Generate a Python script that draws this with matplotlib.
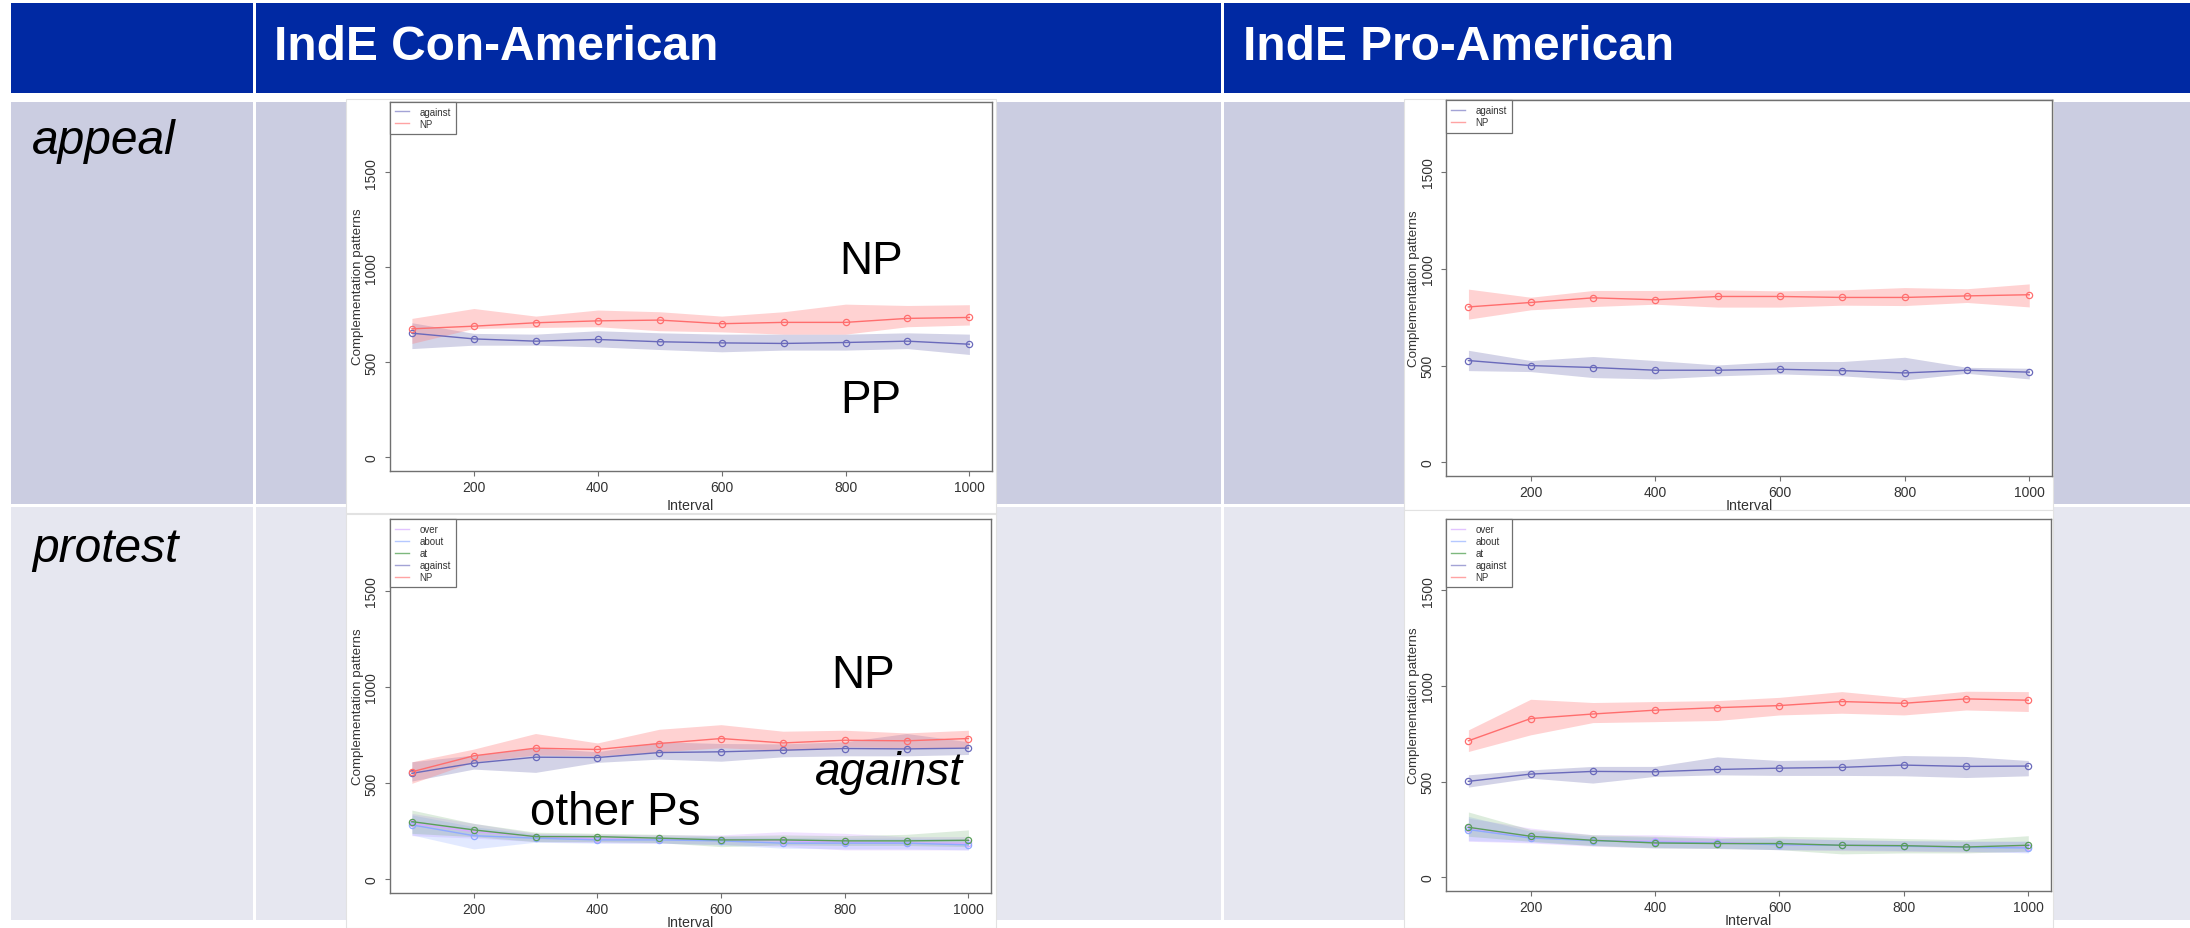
import matplotlib.pyplot as plt
from matplotlib.patches import Rectangle
from matplotlib.lines import Line2D

plt.rcParams['font.family'] = ['Liberation Sans', 'DejaVu Sans']

W, H = 2190, 929

interval = [100, 200, 300, 400, 500, 600, 700, 800, 900, 1000]

col_titles = ['IndE Con-American', 'IndE Pro-American']
row_titles = ['appeal', 'protest']

# appeal, Con-American
ca_np = [675, 689, 707, 717, 721, 702, 709, 709, 730, 735]
ca_np_lo = [598, 677, 682, 686, 665, 659, 647, 647, 686, 695]
ca_np_hi = [730, 782, 742, 774, 765, 742, 765, 805, 798, 802]
ca_ag = [652, 622, 610, 619, 607, 601, 598, 603, 610, 594]
ca_ag_lo = [571, 589, 589, 580, 566, 554, 563, 563, 571, 540]
ca_ag_hi = [707, 651, 647, 665, 654, 647, 647, 647, 654, 647]

# appeal, Pro-American
pa_np = [803, 826, 850, 840, 857, 857, 852, 852, 860, 866]
pa_np_lo = [740, 788, 805, 817, 802, 802, 812, 810, 826, 803]
pa_np_hi = [895, 853, 888, 888, 891, 886, 891, 903, 897, 922]
pa_ag = [526, 500, 490, 476, 476, 481, 474, 462, 476, 466]
pa_ag_lo = [474, 469, 438, 431, 447, 457, 447, 426, 460, 431]
pa_ag_hi = [579, 526, 547, 526, 503, 521, 521, 543, 491, 486]

# protest, Con-American
cp_np = [558, 641, 681, 674, 705, 731, 708, 722, 719, 731]
cp_np_lo = [498, 610, 645, 641, 662, 683, 670, 688, 683, 683]
cp_np_hi = [610, 676, 757, 708, 779, 803, 769, 774, 760, 774]
cp_ag = [550, 603, 634, 632, 658, 662, 670, 679, 677, 681]
cp_ag_lo = [510, 572, 555, 607, 624, 613, 636, 641, 641, 648]
cp_ag_hi = [610, 645, 683, 662, 714, 705, 703, 714, 757, 714]
cp_at = [299, 256, 221, 221, 213, 204, 204, 199, 199, 202]
cp_at_lo = [238, 221, 195, 195, 190, 169, 178, 175, 175, 169]
cp_at_hi = [359, 290, 244, 238, 233, 225, 230, 226, 233, 256]
cp_about = [282, 226, 213, 204, 204, 199, 187, 187, 187, 178]
cp_about_lo = [230, 157, 192, 187, 187, 178, 161, 157, 157, 152]
cp_about_hi = [334, 273, 233, 226, 221, 221, 216, 213, 213, 209]
cp_over = [290, 247, 221, 209, 207, 204, 199, 192, 188, 187]
cp_over_lo = [226, 213, 195, 190, 187, 181, 169, 152, 152, 152]
cp_over_hi = [342, 290, 238, 233, 230, 230, 247, 238, 221, 221]

# protest, Pro-American
pp_np = [713, 829, 853, 873, 886, 897, 918, 909, 932, 925]
pp_np_lo = [657, 744, 808, 813, 819, 848, 857, 848, 874, 866]
pp_np_hi = [770, 930, 913, 918, 923, 940, 970, 939, 972, 970]
pp_ag = [501, 539, 553, 551, 563, 570, 574, 586, 579, 581]
pp_ag_lo = [471, 518, 492, 527, 535, 532, 532, 530, 521, 530]
pp_ag_hi = [535, 561, 579, 579, 629, 610, 614, 636, 631, 610]
pp_at = [261, 214, 193, 179, 176, 176, 167, 165, 158, 167]
pp_at_lo = [214, 188, 165, 153, 150, 144, 122, 127, 127, 136]
pp_at_hi = [341, 249, 222, 214, 205, 214, 209, 202, 196, 217]
pp_about = [249, 205, 191, 183, 179, 170, 167, 162, 156, 153]
pp_about_lo = [191, 183, 167, 156, 153, 144, 144, 139, 136, 127]
pp_about_hi = [318, 240, 214, 209, 202, 200, 196, 191, 188, 188]
pp_over = [257, 209, 193, 188, 183, 170, 167, 162, 158, 158]
pp_over_lo = [188, 179, 162, 153, 150, 144, 139, 136, 132, 132]
pp_over_hi = [309, 257, 222, 222, 214, 205, 196, 191, 188, 188]

# line colour, band colour, band alpha, legend colour
STYLE = {
    'over': ('#D7A8FF', '#CC99FF', 0.28, '#E2C4FF'),
    'about': ('#8FAAFF', '#99B3FF', 0.28, '#B5C8FF'),
    'at': ('#5A9E5A', '#66AA66', 0.22, '#7DB87D'),
    'against': ('#6A6ABB', '#8C8CC0', 0.38, '#A3A3D6'),
    'NP': ('#FF6E6E', '#FF8080', 0.35, '#FFA3A3'),
}


def px_box(l, t, r, b):
    return [l / W, 1 - b / H, (r - l) / W, (b - t) / H]


fig = plt.figure(figsize=(W / 100, H / 100), dpi=100)

# ---- slide table background ----
bg = fig.add_axes([0, 0, 1, 1])
bg.set_xlim(0, W)
bg.set_ylim(H, 0)
bg.axis('off')

header_blue = '#0029A3'
row_cols = ['#CBCDE1', '#E6E7F0']
bg.add_patch(Rectangle((11, 4), W - 11, 90, color=header_blue, lw=0))
for x in (253, 1221):
    bg.add_patch(Rectangle((x, 4), 3, 90, color='white', lw=0))

rows = [(102.5, 505), (508, 921)]
cols = [(11, 253), (256, 1221), (1224, W)]
for (t, b), rc in zip(rows, row_cols):
    for l, r in cols:
        bg.add_patch(Rectangle((l, t), r - l, b - t, color=rc, lw=0))

# white plot images
for l, t, r, b in [(346, 100, 996, 514), (346, 515, 996, 929),
                   (1404, 100, 2053, 511), (1404, 511, 2053, 929)]:
    bg.add_patch(Rectangle((l, t), r - l, b - t, facecolor='white',
                           edgecolor='#e2e2e2', lw=0.8))

fig.text(274 / W, 1 - 60.5 / H, col_titles[0], color='white', fontsize=34.5,
         fontweight='bold', va='baseline', ha='left')
fig.text(1243 / W, 1 - 60.5 / H, col_titles[1], color='white', fontsize=34.5,
         fontweight='bold', va='baseline', ha='left')
fig.text(32 / W, 1 - 154 / H, row_titles[0], fontsize=34.5, style='italic',
         va='baseline', ha='left')
fig.text(32 / W, 1 - 562 / H, row_titles[1], fontsize=34.5, style='italic',
         va='baseline', ha='left')


def panel(rect, series, xlab_gap=22):
    ax = fig.add_axes(px_box(*rect))
    ax.set_facecolor('none')
    for name, mean, lo, hi in series:
        lc, bc, ba, _ = STYLE[name]
        ax.fill_between(interval, lo, hi, color=bc, alpha=ba, lw=0)
        ax.plot(interval, mean, color=lc, lw=1.0, marker='o', ms=4.5,
                mfc='none', mew=0.9)
    ax.set_xlim(64, 1036)
    ax.set_ylim(-72, 1872)
    ax.set_xticks([200, 400, 600, 800, 1000])
    ax.set_yticks([0, 500, 1000, 1500])
    ax.tick_params(direction='out', length=3.6, width=0.8, color='#707070',
                   labelsize=10, labelcolor='#333333')
    ax.tick_params(axis='x', pad=3)
    ax.tick_params(axis='y', pad=4.5)
    plt.setp(ax.get_yticklabels(), rotation=90, va='center')
    for s in ax.spines.values():
        s.set_color('#707070')
        s.set_linewidth(1.0)
    w = rect[2] - rect[0]
    h = rect[3] - rect[1]
    ax.set_xlabel('Interval', fontsize=10.3, color='#333333')
    ax.xaxis.set_label_coords(0.5, -xlab_gap / h)
    ax.set_ylabel('Complementation patterns', fontsize=9.6, color='#333333')
    ax.yaxis.set_label_coords(-26 / w, 0.5)
    handles = [Line2D([], [], color=STYLE[n][3], lw=1.0) for n, *_ in series]
    labels = [n for n, *_ in series]
    leg = ax.legend(handles, labels, loc='upper left', borderaxespad=0,
                    fontsize=7, frameon=True, fancybox=False,
                    edgecolor='#707070', framealpha=1, handlelength=1.4,
                    handletextpad=1.1, labelspacing=0.2, borderpad=0.55)
    leg.get_frame().set_linewidth(0.9)
    for t in leg.get_texts():
        t.set_color('#333333')
    return ax


panel((389.6, 102.5, 991.7, 471.7),
      [('against', ca_ag, ca_ag_lo, ca_ag_hi),
       ('NP', ca_np, ca_np_lo, ca_np_hi)], xlab_gap=27)
panel((1446, 101, 2051.7, 477.3),
      [('against', pa_ag, pa_ag_lo, pa_ag_hi),
       ('NP', pa_np, pa_np_lo, pa_np_hi)])
panel((389.6, 520, 990.7, 894),
      [('over', cp_over, cp_over_lo, cp_over_hi),
       ('about', cp_about, cp_about_lo, cp_about_hi),
       ('at', cp_at, cp_at_lo, cp_at_hi),
       ('against', cp_ag, cp_ag_lo, cp_ag_hi),
       ('NP', cp_np, cp_np_lo, cp_np_hi)])
panel((1446, 520, 2050.7, 892),
      [('over', pp_over, pp_over_lo, pp_over_hi),
       ('about', pp_about, pp_about_lo, pp_about_hi),
       ('at', pp_at, pp_at_lo, pp_at_hi),
       ('against', pp_ag, pp_ag_lo, pp_ag_hi),
       ('NP', pp_np, pp_np_lo, pp_np_hi)])

# overlaid slide labels
for x, y, s, st in [(871, 262, 'NP', 'normal'), (871, 401, 'PP', 'normal'),
                    (863, 676, 'NP', 'normal'), (889, 773, 'against', 'italic'),
                    (615, 813, 'other Ps', 'normal')]:
    fig.text(x / W, 1 - y / H, s, fontsize=33, style=st, ha='center',
             va='center', zorder=10)

fig.savefig('out.png', dpi=100)
